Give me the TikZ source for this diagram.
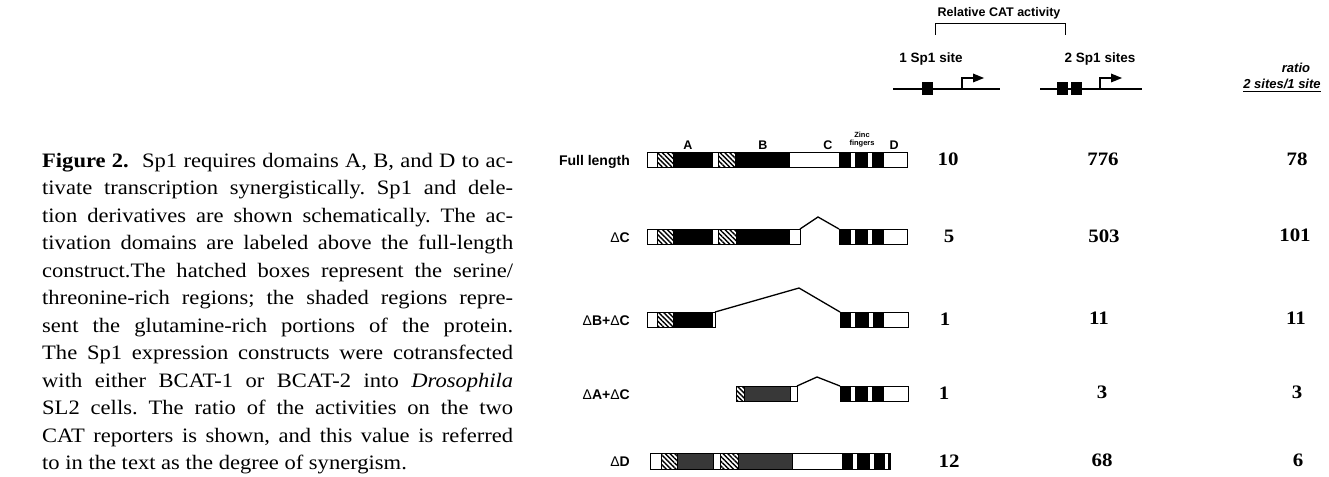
\documentclass[tikz,border=0pt]{standalone}
\usepackage{fontspec}
\setmainfont{Liberation Serif}[FakeStretch=1.1]
\newfontfamily\hv{Liberation Sans}
\usetikzlibrary{patterns.meta,arrows.meta}
\newcommand\mkseg[3]{\path[#1] (#2,\rowT) rectangle (#3,\rowB);}
\newcommand\dl{{\fontseries{m}\selectfont Δ}}
\frenchspacing
\begin{document}
\begin{tikzpicture}[x=1pt,y=-1pt,
  seg/.style={draw=black,line width=0.9pt},
  wseg/.style={seg,fill=white},
  bseg/.style={seg,fill=black},
  sseg/.style={seg,fill=black!78},
  hseg/.style={seg,pattern={Lines[angle=-45,distance=3.4pt,line width=1.4pt]}},
  delline/.style={draw=black,line width=1.3pt,line join=miter},
  lab/.style={font=\hv\bfseries\fontsize{14}{16}\selectfont,inner sep=0pt,anchor=base east},
  hdr/.style={font=\hv\bfseries\fontsize{13.5}{16}\selectfont,inner sep=0pt,anchor=base},
  rat/.style={font=\hv\bfseries\itshape\fontsize{13}{15}\selectfont,inner sep=0pt,anchor=base},
  num/.style={font=\bfseries\fontsize{19}{22}\selectfont,inner sep=0pt},
  dom/.style={font=\hv\bfseries\fontsize{12.5}{14}\selectfont,inner sep=0pt,anchor=base},
  tiny/.style={font=\hv\bfseries\fontsize{7.5}{8}\selectfont,inner sep=0pt,anchor=base},
  capl/.style={font=\fontsize{20.5}{27}\selectfont\frenchspacing,inner sep=0pt,anchor=base west},
  prom/.style={draw=black,line width=1.2pt},
  sbox/.style={fill=black},
  brk/.style={draw=black,line width=1pt}
]
\useasboundingbox (0,0) rectangle (1329,476);

% ---------- caption ----------
\node[capl] (c1) at (42,167.0) {\hbox to 471pt{\textbf{Figure 2.}\hskip 0.6em plus 0.2em minus 0.2em Sp1 requires domains A, B, and D to ac-}};
\node[capl] (c2) at (42,194.5) {\hbox to 471pt{tivate transcription synergistically. Sp1 and dele-}};
\node[capl] (c3) at (42,222.0) {\hbox to 471pt{tion derivatives are shown schematically. The ac-}};
\node[capl] (c4) at (42,249.5) {\hbox to 471pt{tivation domains are labeled above the full-length}};
\node[capl] (c5) at (42,277.0) {\hbox to 471pt{construct.The hatched boxes represent the serine/}};
\node[capl] (c6) at (42,304.5) {\hbox to 471pt{threonine-rich regions; the shaded regions repre-}};
\node[capl] (c7) at (42,332.0) {\hbox to 471pt{sent the glutamine-rich portions of the protein.}};
\node[capl] (c8) at (42,359.5) {\hbox to 471pt{The Sp1 expression constructs were cotransfected}};
\node[capl] (c9) at (42,387.0) {\hbox to 471pt{with either BCAT-1 or BCAT-2 into \textit{Drosophila}}};
\node[capl] (c10) at (42,414.5) {\hbox to 471pt{SL2 cells. The ratio of the activities on the two}};
\node[capl] (c11) at (42,442.0) {\hbox to 471pt{CAT reporters is shown, and this value is referred}};
\node[capl] (c12) at (42,469.5) {to in the text as the degree of synergism.};

% ---------- header ----------
\node[font=\hv\bfseries\fontsize{12.5}{14}\selectfont,inner sep=0pt,anchor=base] (rca) at (999,17) {Relative CAT activity};
\coordinate (bl) at (935,24);
\coordinate (br) at (1065,24);
\draw[brk] ([yshift=-11pt]bl) -- (bl) -- (br) -- ([yshift=-11pt]br);
\node[hdr] (s1) at (931,63) {1 Sp1 site};
\node[hdr] (s2) at (1100,63) {2 Sp1 sites};
\node[rat] (r1) at (1296,73) {ratio};
\node[rat] (r2) at (1282,89) {2 sites/1 site};
\draw[line width=1pt] ([yshift=-3pt]r2.base west) -- ([yshift=-3pt]r2.base east);

% promoter 1
\coordinate (p1a) at (893,89); \coordinate (p1b) at (1000,89);
\draw[prom] (p1a) -- (p1b);
\fill[sbox] (922,82.5) rectangle (933,95.5);
\coordinate (a1) at (962,89);
\draw[prom] (a1) -- ++(0,-11) -- ++(13,0);
\fill (984,78) -- (973,73.5) -- (973,82.5) -- cycle;
% promoter 2
\coordinate (p2a) at (1040,89); \coordinate (p2b) at (1142,89);
\draw[prom] (p2a) -- (p2b);
\fill[sbox] (1057,82.5) rectangle (1068,95.5);
\fill[sbox] (1071,82.5) rectangle (1082,95.5);
\coordinate (a2) at (1100,89);
\draw[prom] (a2) -- ++(0,-11) -- ++(13,0);
\fill (1122,78) -- (1111,73.5) -- (1111,82.5) -- cycle;

% ---------- domain labels ----------
\node[dom] (dA) at (688,149) {A};
\node[dom] (dB) at (763,149) {B};
\node[dom] (dC) at (828,149) {C};
\node[tiny] (zn1) at (862,137) {Zinc};
\node[tiny] (zn2) at (862,146) {fingers};
\node[dom] (dD) at (894,149) {D};

% ---------- row labels ----------
\node[lab] (lFull) at (630,165) {Full length};
\node[lab] (lC) at (630,242) {\dl C};
\node[lab] (lBC) at (630,325) {\dl B+\dl C};
\node[lab] (lAC) at (630,399) {\dl A+\dl C};
\node[lab] (lD) at (630,466) {\dl D};

% ---------- bars ----------
% Full length
\def\rowT{152}\def\rowB{167}
\mkseg{wseg}{647}{657}\mkseg{hseg}{657}{673}\mkseg{bseg}{673}{712}
\mkseg{wseg}{712}{718}\mkseg{hseg}{718}{735}\mkseg{bseg}{735}{789}
\mkseg{wseg}{789}{839}\mkseg{bseg}{839}{850}\mkseg{wseg}{850}{855}
\mkseg{bseg}{855}{867}\mkseg{wseg}{867}{872}\mkseg{bseg}{872}{883}
\mkseg{wseg}{883}{907}
% Delta C
\def\rowT{229}\def\rowB{244}
\mkseg{wseg}{647}{657}\mkseg{hseg}{657}{673}\mkseg{bseg}{673}{712}
\mkseg{wseg}{712}{718}\mkseg{hseg}{718}{736}\mkseg{bseg}{736}{789}
\mkseg{wseg}{789}{800}
\mkseg{bseg}{839}{850}\mkseg{wseg}{850}{855}
\mkseg{bseg}{855}{867}\mkseg{wseg}{867}{872}\mkseg{bseg}{872}{883}
\mkseg{wseg}{883}{907}
\coordinate (k2a) at (800,229); \coordinate (k2p) at (818,217); \coordinate (k2b) at (839,229);
\draw[delline] (k2a) -- (k2p) -- (k2b);
% Delta B + Delta C
\def\rowT{312}\def\rowB{327}
\mkseg{wseg}{647}{657}\mkseg{hseg}{657}{673}\mkseg{bseg}{673}{712}
\mkseg{wseg}{712}{715}
\mkseg{bseg}{840}{850}\mkseg{wseg}{850}{855}
\mkseg{bseg}{855}{868}\mkseg{wseg}{868}{873}\mkseg{bseg}{873}{883}
\mkseg{wseg}{883}{908}
\coordinate (k3a) at (715,312); \coordinate (k3p) at (799,288); \coordinate (k3b) at (840,312);
\draw[delline] (k3a) -- (k3p) -- (k3b);
% Delta A + Delta C
\def\rowT{386}\def\rowB{401}
\mkseg{hseg}{736}{744}\mkseg{sseg}{744}{790}\mkseg{wseg}{790}{797}
\mkseg{bseg}{840}{850}\mkseg{wseg}{850}{855}
\mkseg{bseg}{855}{867}\mkseg{wseg}{867}{872}\mkseg{bseg}{872}{883}
\mkseg{wseg}{883}{908}
\coordinate (k4a) at (797,386); \coordinate (k4p) at (817,377); \coordinate (k4b) at (840,386);
\draw[delline] (k4a) -- (k4p) -- (k4b);
% Delta D
\def\rowT{453}\def\rowB{469}
\mkseg{wseg}{650}{661}\mkseg{hseg}{661}{677}\mkseg{sseg}{677}{713}
\mkseg{wseg}{713}{720}\mkseg{hseg}{720}{738}\mkseg{sseg}{738}{792}
\mkseg{wseg}{792}{842}\mkseg{bseg}{842}{852}\mkseg{wseg}{852}{857}
\mkseg{bseg}{857}{869}\mkseg{wseg}{869}{874}\mkseg{bseg}{874}{884}
\mkseg{wseg}{884}{888}\mkseg{bseg}{888}{890}

% ---------- numbers ----------
\node[num] (n11) at (948,159) {10};
\node[num] (n12) at (1103,159) {776};
\node[num] (n13) at (1297,159) {78};
\node[num] (n21) at (949,236) {5};
\node[num] (n22) at (1104,236) {503};
\node[num] (n23) at (1295,235) {101};
\node[num] (n31) at (945,319) {1};
\node[num] (n32) at (1099,318) {11};
\node[num] (n33) at (1296,318) {11};
\node[num] (n41) at (944,393) {1};
\node[num] (n42) at (1102,392) {3};
\node[num] (n43) at (1297,392) {3};
\node[num] (n51) at (949,461) {12};
\node[num] (n52) at (1102,460) {68};
\node[num] (n53) at (1298,460) {6};
\end{tikzpicture}
\end{document}
